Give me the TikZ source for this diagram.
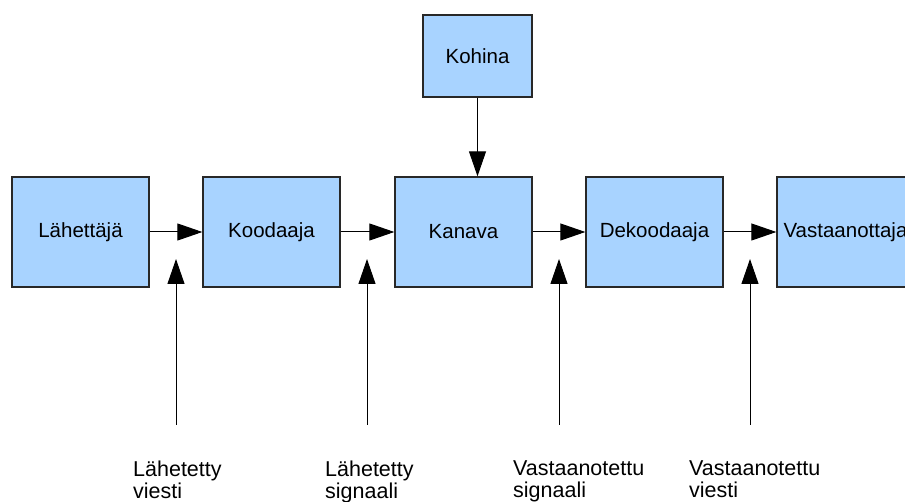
\documentclass[tikz,border=0pt]{standalone}
\usepackage{fontspec}
\setmainfont{Liberation Sans}
\usetikzlibrary{arrows.meta}
\definecolor{boxfill}{RGB}{168,211,255}
\definecolor{boxline}{RGB}{40,40,40}
\begin{document}
\begin{tikzpicture}[x=1pt,y=-1pt,
  blk/.style={draw=boxline,line width=1.3pt,fill=boxfill,minimum width=137pt,minimum height=110pt,inner sep=0pt,font=\fontsize{20.5}{24}\selectfont},
  arr/.style={line width=1pt,-{Triangle[length=25pt,width=17pt]}},
  lbl/.style={anchor=north west,inner sep=0pt,align=left,font=\fontsize{21.5}{22}\selectfont}]
\useasboundingbox (0,0) rectangle (905,502);
\node[blk] (send) at (80.5,232) {Lähettäjä};
\node[blk] (enc) at (271.5,232) {Koodaaja};
\node[blk] (chan) at (463.5,232) {Kanava};
\node[blk] (dec) at (654.5,232) {Dekoodaaja};
\node[blk] (recv) at (845.5,232) {Vastaanottaja};
\node[blk,minimum width=109pt,minimum height=82pt] (noise) at (477.5,56) {Kohina};
\draw[arr] (send) -- (enc);
\draw[arr] (enc) -- (chan);
\draw[arr] (chan) -- (dec);
\draw[arr] (dec) -- (recv);
\draw[arr] (noise.south) -- (noise.south |- chan.north);
\coordinate (b1) at (176,425);
\coordinate (t1) at (176,259);
\coordinate (b2) at (367,425);
\coordinate (t2) at (367,259);
\coordinate (b3) at (559,425);
\coordinate (t3) at (559,259);
\coordinate (b4) at (750,425);
\coordinate (t4) at (750,259);
\draw[arr] (b1) -- (t1);
\draw[arr] (b2) -- (t2);
\draw[arr] (b3) -- (t3);
\draw[arr] (b4) -- (t4);
\node[lbl] (l1) at (133,461) {Lähetetty\\viesti};
\node[lbl] (l2) at (325,461) {Lähetetty\\signaali};
\node[lbl] (l3) at (513,461) {Vastaanotettu\\signaali};
\node[lbl] (l4) at (689,461) {Vastaanotettu\\viesti};
\end{tikzpicture}
\end{document}
